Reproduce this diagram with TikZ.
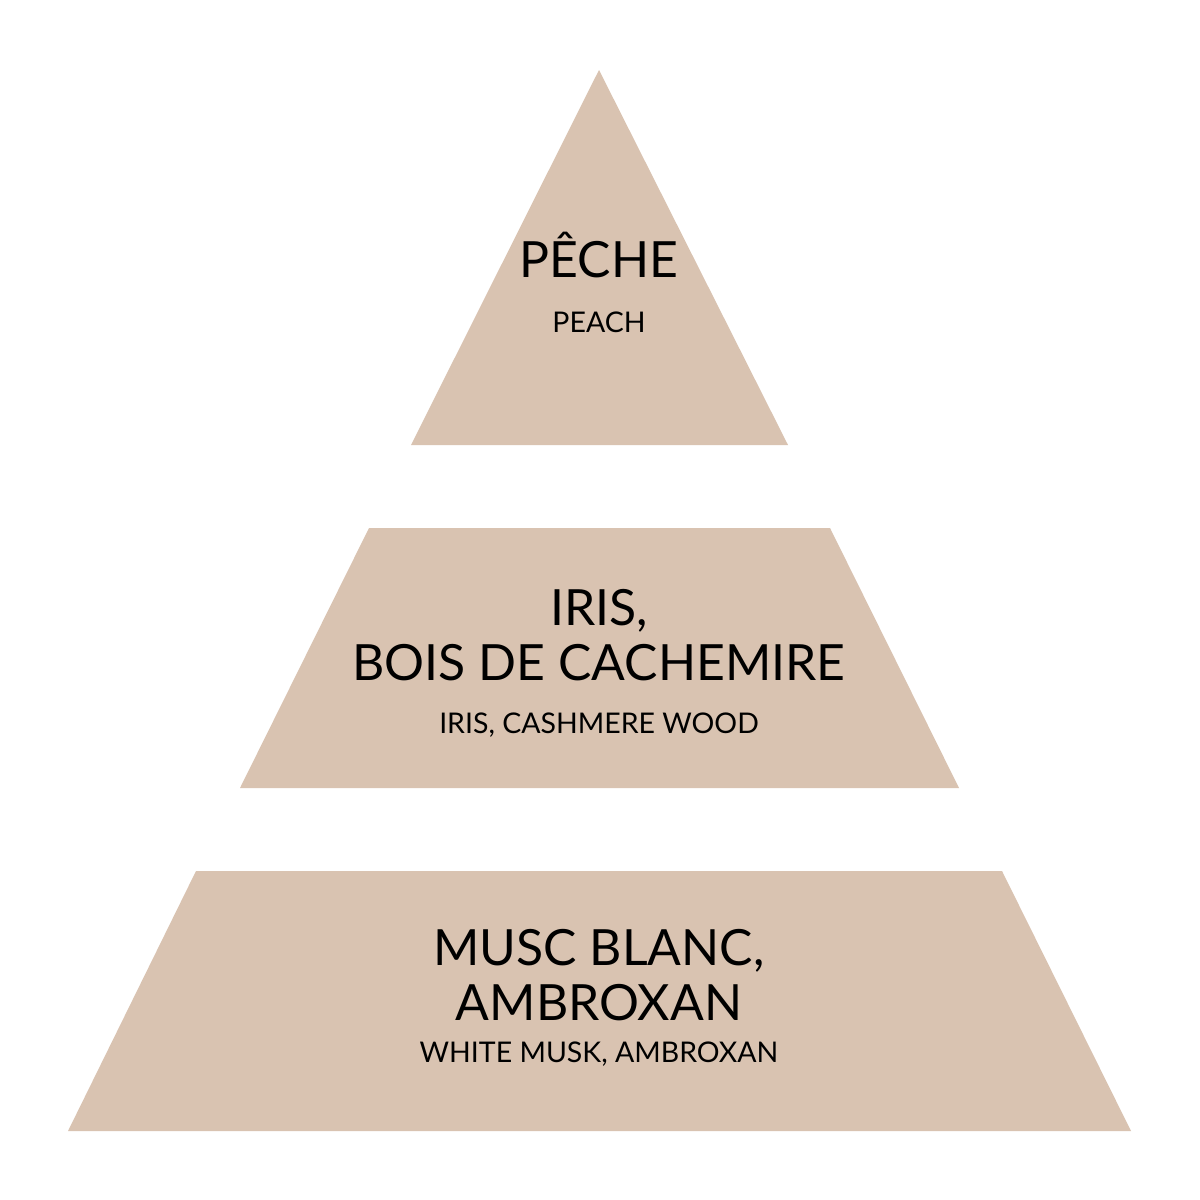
\documentclass[tikz,border=0pt]{standalone}
\usepackage{fontspec}
\setmainfont{Lato}
\usetikzlibrary{positioning, calc}

\definecolor{sand}{RGB}{217,195,177}

\begin{document}
\begin{tikzpicture}[
		      x=0.01cm, y=-0.01cm,
		      every node/.style={align=center, inner sep=0pt, text=black},
		      tier/.style={fill=sand, draw=none},
		      noteFR/.style={anchor=base, font=\fontsize{14.2}{15.6}\selectfont},  % French name
		      noteEN/.style={anchor=base, font=\fontsize{8.1}{9}\selectfont}  % English name
	      ]
	      \useasboundingbox[fill=white] (0,0) rectangle (1200,1200);

	      % Top tier
	      \fill[tier] (599,70) -- (788,445) -- (411,445) -- cycle;
	      \node[noteFR] (T1) at (599,277) {PÊCHE};
	      \node[noteEN] (T2) at (599,332) {PEACH};

	      % Middle tier (base = last line)
	      \fill[tier] (369,528) -- (830,528) -- (959,788) -- (240,788) -- cycle;
	      \node[noteFR] (M1) at (599,680) {IRIS,\\BOIS DE CACHEMIRE};
	      \node[noteEN] (M2) at (599,733) {IRIS, CASHMERE WOOD};

	      % Bottom tier
	      \fill[tier] (196,871) -- (1002,871) -- (1131,1131) -- (68,1131) -- cycle;
	      \node[noteFR] (B1) at (599,1020) {MUSC BLANC,\\AMBROXAN};
	      \node[noteEN] (B2) at (599,1062) {WHITE MUSK, AMBROXAN};
      \end{tikzpicture}
\end{document}
